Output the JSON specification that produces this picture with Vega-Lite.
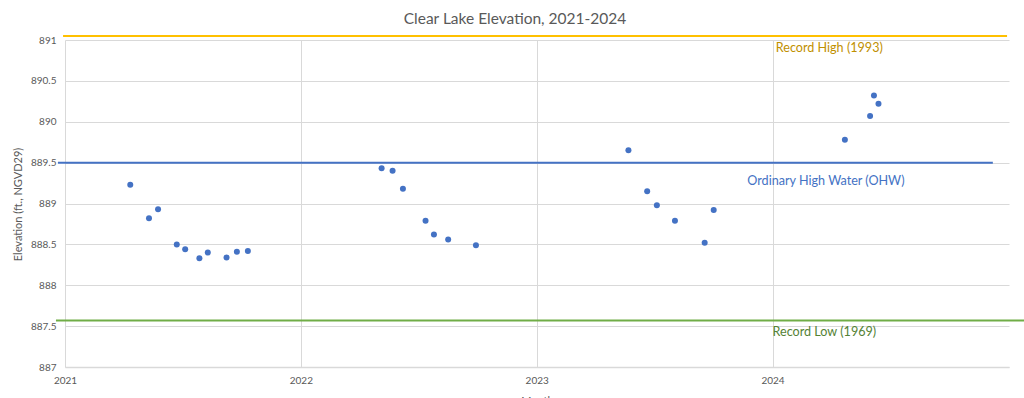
{
  "$schema": "https://vega.github.io/schema/vega-lite/v6.json",
  "width": 944,
  "height": 327,
  "autosize": {"type": "none"},
  "padding": {"left": 65, "top": 40, "right": 15, "bottom": 31},
  "background": "white",
  "config": {
    "font": "Lato",
    "view": {"stroke": null},
    "axis": {"labelColor": "#595959", "titleColor": "#595959", "labelFont": "Lato", "titleFont": "Lato", "gridColor": "#D9D9D9", "ticks": false}
  },
  "title": {"text": "Clear Lake Elevation, 2021-2024", "fontSize": 15.5, "fontWeight": "normal", "color": "#595959", "font": "Lato", "offset": 4, "dx": -22},
  "datasets": {
    "points": [
      {"date": "2021-04-12", "elev": 889.23},
      {"date": "2021-05-11", "elev": 888.82},
      {"date": "2021-05-25", "elev": 888.93},
      {"date": "2021-06-23", "elev": 888.50},
      {"date": "2021-07-06", "elev": 888.44},
      {"date": "2021-07-28", "elev": 888.33},
      {"date": "2021-08-10", "elev": 888.40},
      {"date": "2021-09-08", "elev": 888.34},
      {"date": "2021-09-24", "elev": 888.41},
      {"date": "2021-10-11", "elev": 888.42},
      {"date": "2022-05-06", "elev": 889.43},
      {"date": "2022-05-23", "elev": 889.40},
      {"date": "2022-06-08", "elev": 889.18},
      {"date": "2022-07-13", "elev": 888.79},
      {"date": "2022-07-26", "elev": 888.62},
      {"date": "2022-08-17", "elev": 888.56},
      {"date": "2022-09-29", "elev": 888.49},
      {"date": "2023-05-23", "elev": 889.65},
      {"date": "2023-06-21", "elev": 889.15},
      {"date": "2023-07-06", "elev": 888.98},
      {"date": "2023-08-03", "elev": 888.79},
      {"date": "2023-09-18", "elev": 888.52},
      {"date": "2023-10-02", "elev": 888.92},
      {"date": "2024-04-22", "elev": 889.78},
      {"date": "2024-05-31", "elev": 890.07},
      {"date": "2024-06-06", "elev": 890.32},
      {"date": "2024-06-13", "elev": 890.22}
    ],
    "refs": [
      {"series": "Record High (1993)", "date": "2020-12-29", "elev": 891.05},
      {"series": "Record High (1993)", "date": "2024-12-29", "elev": 891.05},
      {"series": "Ordinary High Water (OHW)", "date": "2020-12-21", "elev": 889.5},
      {"series": "Ordinary High Water (OHW)", "date": "2024-12-07", "elev": 889.5},
      {"series": "Record Low (1969)", "date": "2020-12-18", "elev": 887.57},
      {"series": "Record Low (1969)", "date": "2025-02-10", "elev": 887.57}
    ],
    "labels": [
      {"series": "Record High (1993)", "date": "2024-01-06", "elev": 890.9},
      {"series": "Ordinary High Water (OHW)", "date": "2023-11-23", "elev": 889.28},
      {"series": "Record Low (1969)", "date": "2024-01-01", "elev": 887.43}
    ]
  },
  "layer": [
    {
      "data": {"name": "points"},
      "mark": {"type": "point", "filled": true, "opacity": 1, "size": 36, "shape": "circle", "color": "#4472C4"},
      "encoding": {
        "x": {
          "field": "date", "type": "temporal",
          "scale": {"type": "utc", "domain": [{"year": 2021, "month": 1, "date": 1, "utc": true}, {"year": 2025, "month": 1, "date": 1, "utc": true}]},
          "axis": {
            "values": [{"year": 2021, "month": 1, "date": 1, "utc": true}, {"year": 2022, "month": 1, "date": 1, "utc": true}, {"year": 2023, "month": 1, "date": 1, "utc": true}, {"year": 2024, "month": 1, "date": 1, "utc": true}],
            "format": "%Y", "labelFontSize": 10, "labelPadding": 8, "labelAlign": "center",
            "domainColor": "#D9D9D9", "domainWidth": 1.5,
            "title": "Month", "titleFontSize": 11, "titleFontWeight": "normal", "titlePadding": 10
          }
        },
        "y": {
          "field": "elev", "type": "quantitative",
          "scale": {"domain": [887, 891], "zero": false, "nice": false},
          "axis": {
            "values": [887, 887.5, 888, 888.5, 889, 889.5, 890, 890.5, 891],
            "format": ".1~f", "labelFontSize": 10, "labelPadding": 9, "domain": false,
            "title": "Elevation (ft., NGVD29)", "titleFontSize": 11, "titleFontWeight": "normal",
            "titleX": -47, "titleY": 164, "titleAlign": "center", "titleBaseline": "middle", "titleAngle": -90
          }
        }
      }
    },
    {
      "data": {"name": "refs"},
      "mark": {"type": "line", "strokeWidth": 2},
      "encoding": {
        "x": {"field": "date", "type": "temporal"},
        "y": {"field": "elev", "type": "quantitative"},
        "detail": {"field": "series"},
        "color": {
          "field": "series", "type": "nominal", "legend": null,
          "scale": {"domain": ["Record High (1993)", "Ordinary High Water (OHW)", "Record Low (1969)"], "range": ["#FFC000", "#4472C4", "#70AD47"]}
        }
      }
    },
    {
      "data": {"name": "labels"},
      "mark": {"type": "text", "align": "left", "baseline": "middle", "fontSize": 12.6, "font": "Lato"},
      "encoding": {
        "x": {"field": "date", "type": "temporal"},
        "y": {"field": "elev", "type": "quantitative"},
        "text": {"field": "series"},
        "color": {
          "field": "series", "type": "nominal", "legend": null,
          "scale": {"domain": ["Record High (1993)", "Ordinary High Water (OHW)", "Record Low (1969)"], "range": ["#BF9000", "#4472C4", "#548235"]}
        }
      }
    }
  ],
  "resolve": {"scale": {"color": "independent"}}
}
